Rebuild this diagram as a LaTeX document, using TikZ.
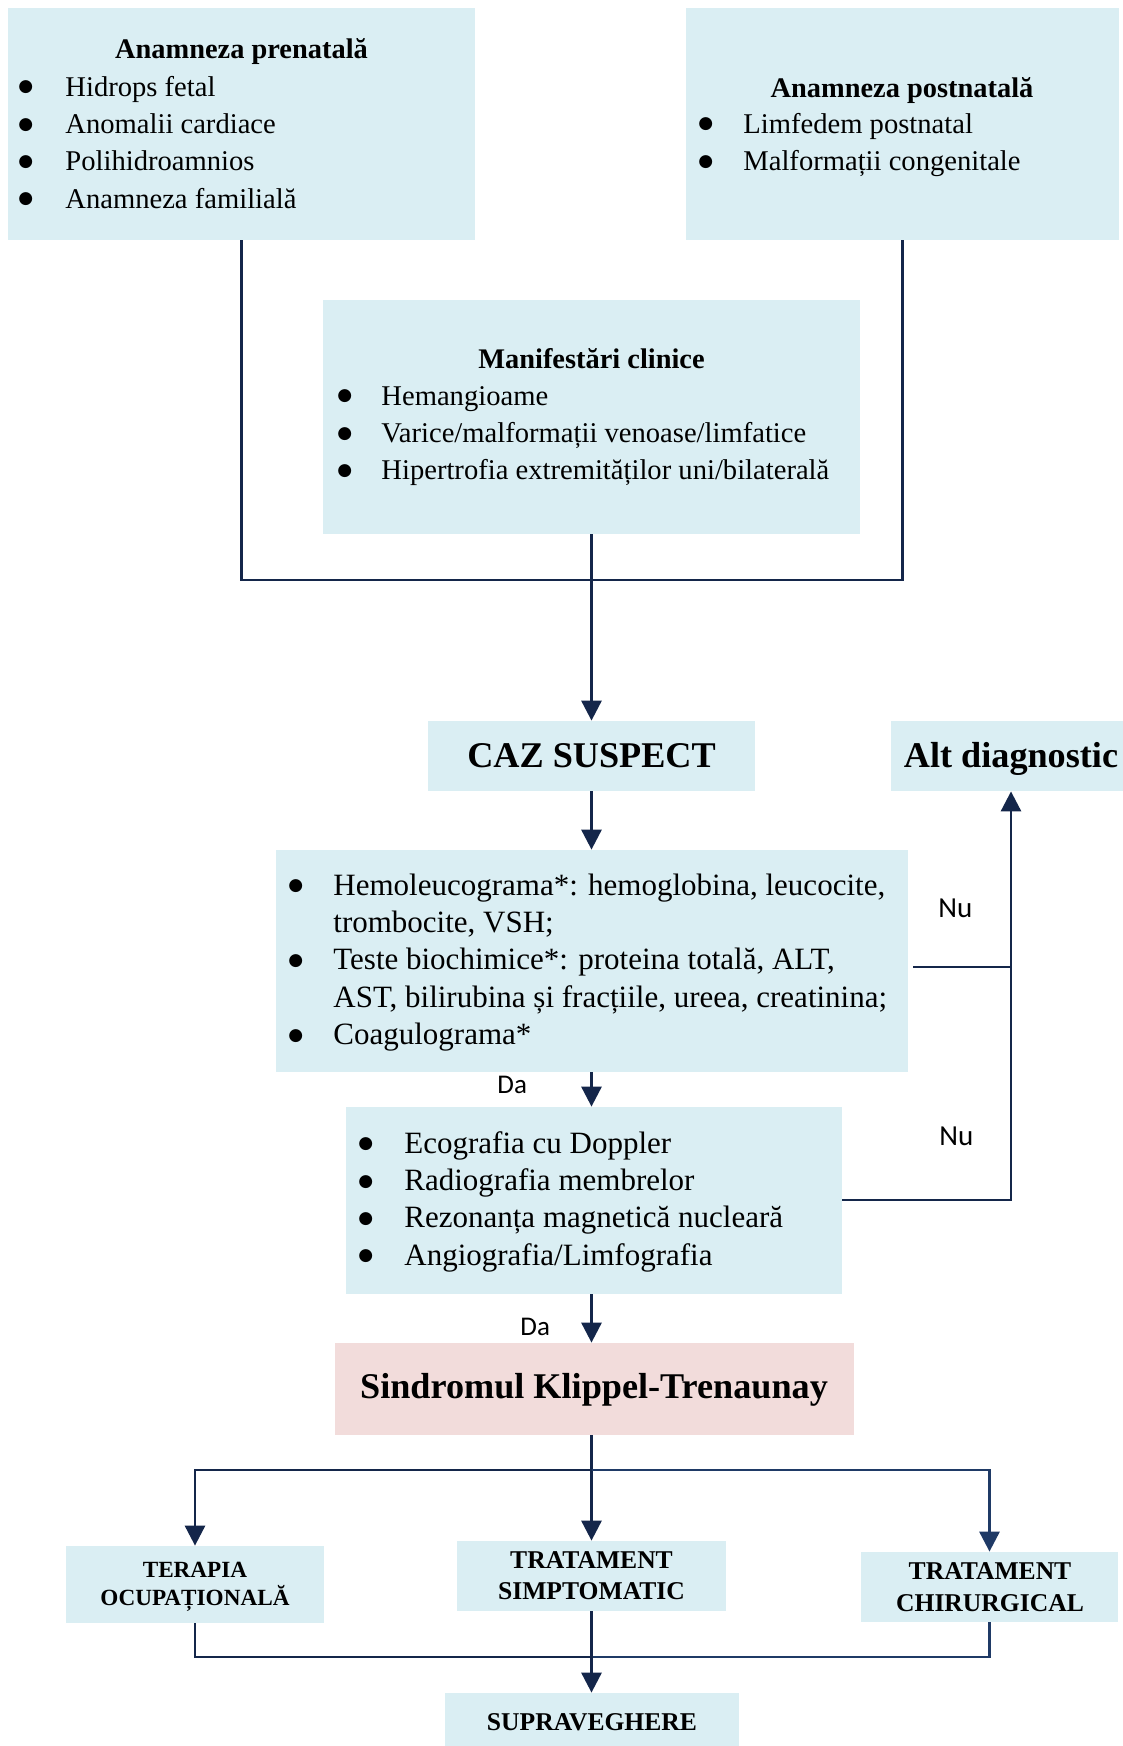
\documentclass[tikz,border=0pt]{standalone}
\usepackage{fontspec}
\usepackage{graphicx}
\setmainfont{Liberation Serif}
\newfontfamily\calibri{Carlito}
\newfontfamily\dejavu{DejaVu Sans}
\usetikzlibrary{fit,arrows.meta}
\definecolor{boxblue}{HTML}{DAEEF3}
\definecolor{boxpink}{HTML}{F2DCDB}
\definecolor{linec}{HTML}{14264A}
\definecolor{lineb}{HTML}{1F3A66}
\newcommand{\bl}{\raisebox{2.2pt}{\dejavu\fontsize{8.5}{8.5}\selectfont ●}}
\begin{document}
\begin{tikzpicture}[x=0.5pt,y=-0.5pt,
  box/.style={fill=boxblue, inner sep=0pt, draw=none},
  pbox/.style={fill=boxpink, inner sep=0pt, draw=none},
  ln/.style={draw=linec, line width=1.45pt},
  arr/.style={ln, -{Triangle[length=10pt, width=10pt]}},
  ttl/.style={font=\bfseries\fontsize{14.2}{18.7}\selectfont, anchor=base, inner sep=0pt},
  lst/.style={font=\fontsize{14.3}{18.7}\selectfont, anchor=base west, inner sep=0pt},
  lstb/.style={font=\fontsize{15.5}{18.7}\selectfont, anchor=base west, inner sep=0pt},
  big/.style={font=\bfseries\fontsize{18.1}{22}\selectfont, anchor=base, inner sep=0pt},
  nulbl/.style={font=\calibri\fontsize{14.5}{16}\selectfont, anchor=base west, inner sep=0pt},
  dalbl/.style={font=\calibri\fontsize{13.5}{16}\selectfont, anchor=base west, inner sep=0pt},
  sm/.style={anchor=base, inner sep=0pt}
]
\useasboundingbox (0,0) rectangle (1123,1746);

% boxes
\node[box, fit={(8,8) (475,240)}] (pre) {};
\node[box, fit={(686,8) (1119,240)}] (post) {};
\node[box, fit={(323,300) (860,534)}] (man) {};
\node[box, fit={(428,721) (755,791)}] (caz) {};
\node[box, fit={(891,721) (1130,791)}] (alt) {};
\node[box, fit={(276,850) (908,1072)}] (hemo) {};
\node[box, fit={(346,1107) (842,1294)}] (eco) {};
\node[pbox, fit={(335,1343) (854,1435)}] (sind) {};
\node[box, fit={(66,1546) (324,1623)}] (ter) {};
\node[box, fit={(457,1541) (726,1611)}] (simp) {};
\node[box, fit={(861,1552) (1118,1622)}] (chir) {};
\node[box, fit={(445,1693) (739,1760)}] (sup) {};

% texts
\node[ttl] (preT) at (241.5,58) {Anamneza prenatală};
\node[lst] (preL) at (18,96) {\begin{tabular}[t]{@{}p{23.5pt}@{}l@{}}
\bl & Hidrops fetal\\
\bl & Anomalii cardiace\\
\bl & Polihidroamnios\\
\bl & Anamneza familială
\end{tabular}};

\node[ttl] (postT) at (902,97) {Anamneza postnatală};
\node[lst] (postL) at (698,133) {\begin{tabular}[t]{@{}p{22.5pt}@{}l@{}}
\bl & Limfedem postnatal\\
\bl & Malformații congenitale
\end{tabular}};

\node[ttl] (manT) at (591.5,368) {Manifestări clinice};
\node[lst] (manL) at (337,405) {\begin{tabular}[t]{@{}p{22pt}@{}l@{}}
\bl & Hemangioame\\
\bl & Varice/malformații venoase/limfatice\\
\bl & Hipertrofia extremităților uni/bilaterală
\end{tabular}};

\node[big] (cazT) at (591.5,767) {CAZ SUSPECT};
\node[big] (altT) at (1011,767) {Alt diagnostic};

\node[lstb] (hemoL) at (288,895) {\begin{tabular}[t]{@{}p{22.5pt}@{}l@{}}
\bl & Hemoleucograma*: hemoglobina, leucocite,\\
 & trombocite, VSH;\\
\bl & Teste biochimice*: proteina totală, ALT,\\
 & AST, bilirubina și fracțiile, ureea, creatinina;\\
\bl & Coagulograma*
\end{tabular}};

\node[lstb] (ecoL) at (358,1153) {\begin{tabular}[t]{@{}p{23pt}@{}l@{}}
\bl & Ecografia cu Doppler\\
\bl & Radiografia membrelor\\
\bl & Rezonanța magnetică nucleară\\
\bl & Angiografia/Limfografia
\end{tabular}};

\node[big] (sindT) at (594,1398) {Sindromul Klippel-Trenaunay};

\node[sm, font=\bfseries\fontsize{11.6}{14}\selectfont] (terT) at (195,1577)
  {\begin{tabular}[t]{@{}c@{}}TERAPIA\\OCUPAȚIONALĂ\end{tabular}};
\node[sm, font=\bfseries\fontsize{12.8}{15.5}\selectfont] (simpT) at (591.5,1568)
  {\begin{tabular}[t]{@{}c@{}}TRATAMENT\\SIMPTOMATIC\end{tabular}};
\node[sm, font=\bfseries\fontsize{12.8}{16}\selectfont] (chirT) at (990,1579)
  {\begin{tabular}[t]{@{}c@{}}TRATAMENT\\CHIRURGICAL\end{tabular}};
\node[sm, font=\bfseries\fontsize{12.8}{16}\selectfont] (supT) at (592,1730) {SUPRAVEGHERE};

% labels
\node[nulbl] (nu1) at (938,917) {Nu};
\node[nulbl] (nu2) at (939,1145) {Nu};
\node[dalbl] (da1) at (497,1093) {Da};
\node[dalbl] (da2) at (520,1335) {Da};

% connectors
\coordinate (j1) at (592,580);
\coordinate (nuc) at (1011,967);
\coordinate (nub) at (1011,1200);
\coordinate (b1) at (592,1470);
\coordinate (b2) at (592,1657);

\draw[ln] (pre.south) |- (j1) -| (post.south);
\draw[arr] (man.south -| caz.north) -- (caz.north);
\draw[arr] (caz.south) -- (hemo.north -| caz.south);
\draw[ln] ([xshift=2.5pt]hemo.east |- nuc) -- (nuc);
\draw[arr] (eco.east |- nub) -- (nub) -- (nub |- alt.south);
\draw[arr] (hemo.south -| caz.south) -- (eco.north -| caz.south);
\draw[arr] (eco.south -| caz.south) -- (sind.north -| caz.south);
\draw[arr] (sind.south -| caz.south) -- (simp.north -| caz.south);
\draw[arr] (b1) -| (ter.north);
\draw[arr, draw=lineb] (b1) -| (chir.north);
\draw[ln] (ter.south) |- (b2);
\draw[ln, draw=lineb] (b2) -| (chir.south);
\draw[arr] (simp.south -| caz.south) -- (sup.north -| caz.south);
\end{tikzpicture}
\end{document}
